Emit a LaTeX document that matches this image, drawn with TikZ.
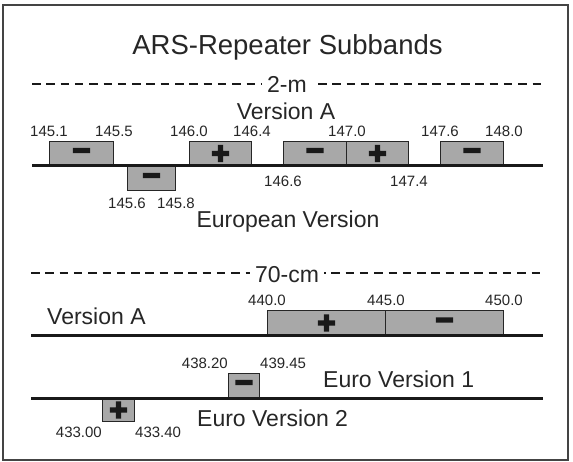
\documentclass[tikz,border=0pt]{standalone}
\usepackage{fontspec}
\setmainfont{Liberation Sans}
\newfontfamily\signfont{DejaVu Sans Bold}[FakeBold=10]
\usepackage{xcolor}
\definecolor{bandgray}{HTML}{A8A8A8}
\definecolor{ink}{HTML}{262626}
\definecolor{framegray}{HTML}{444444}
\usepackage{tikz}
\usetikzlibrary{positioning}

\newcommand{\plussign}{{\signfont +}}
\newcommand{\minussign}{{\signfont −}}

\begin{document}
\begin{tikzpicture}[x=1pt, y=-1pt,
  band/.style={draw=ink, line width=1pt, fill=bandgray, minimum height=24pt, inner sep=0pt,
    anchor=south west, text=black!90, font=\fontsize{24}{24}\selectfont},
  freq/.style={inner sep=0pt, text=ink, font=\fontsize{15}{15}\selectfont},
  lbl/.style={inner sep=0pt, text=ink, font=\fontsize{23}{23}\selectfont},
  axis/.style={line width=3pt, black!90},
  sep/.style={line width=2pt, black!90, dash pattern=on 8.5pt off 5.8pt}]
  \useasboundingbox (0,0) rectangle (573,462);
  \draw[framegray, line width=2pt] (3,5) rectangle (568,460);

  % Title
  \node[inner sep=0pt, text=ink, font=\fontsize{27.5}{27.5}\selectfont, anchor=base] (title) at (287.5,55) {ARS-Repeater Subbands};

  % 2-m
  \coordinate (d1w) at (32,84);
  \coordinate (d1e) at (543,84);
  \draw[sep] (d1w) -- (d1e);
  \node[lbl, anchor=base, fill=white, inner xsep=5pt] (twom) at (287,92.5) {2-m};
  \node[lbl, anchor=base] (verA) at (286,120) {Version A};

  \node[band, minimum width=64pt] (b1) at (49,166) {\minussign};
  \node[band, minimum width=48pt, anchor=north west] (b2) at (127,166) {\minussign};
  \node[band, minimum width=62pt] (b3) at (189,166) {\plussign};
  \node[band, minimum width=63pt] (b4) at (283,166) {\minussign};
  \node[band, minimum width=62pt] (b5) at (346,166) {\plussign};
  \node[band, minimum width=63pt] (b6) at (440,166) {\minussign};

  \node[freq, above=4pt of b1.north west] (f1451) {145.1};
  \node[freq, above=4pt of b1.north east] (f1455) {145.5};
  \node[freq, above=4pt of b3.north west] (f1460) {146.0};
  \node[freq, above=4pt of b3.north east] (f1464) {146.4};
  \node[freq, above=4pt of b4.north east] (f1470) {147.0};
  \node[freq, above=4pt of b6.north west] (f1476) {147.6};
  \node[freq, above=4pt of b6.north east] (f1480) {148.0};
  \node[freq, below=6.5pt of b2.south west] (f1456) {145.6};
  \node[freq, below=6.5pt of b2.south east] (f1458) {145.8};
  \node[freq, below=9.5pt of b4.south west] (f1466) {146.6};
  \node[freq, below=9.5pt of b5.south east] (f1474) {147.4};

  \coordinate (l1w) at (32,166);
  \coordinate (l1e) at (543,166);
  \draw[axis] (l1w) -- (l1e);
  \node[lbl, anchor=base] (euro) at (288,228) {European Version};

  % 70-cm
  \coordinate (d2w) at (31,273);
  \coordinate (d2e) at (543,273);
  \draw[sep] (d2w) -- (d2e);
  \node[lbl, anchor=base, fill=white, inner xsep=5pt] (seventy) at (287,283) {70-cm};
  \node[lbl, anchor=base west] (verA70) at (47,324) {Version A};

  \node[band, minimum width=118pt, minimum height=25pt] (c1) at (267,336) {\plussign};
  \node[band, minimum width=118pt, minimum height=25pt] (c2) at (385,336) {\minussign};
  \node[freq, above=4.5pt of c1.north west] (f4400) {440.0};
  \node[freq, above=4.5pt of c1.north east] (f4450) {445.0};
  \node[freq, above=4.5pt of c2.north east] (f4500) {450.0};

  \coordinate (l2w) at (31,336);
  \coordinate (l2e) at (543,336);
  \draw[axis] (l2w) -- (l2e);

  % Euro versions
  \node[band, minimum width=31pt] (e1) at (228,398) {\minussign};
  \node[band, minimum width=32pt, minimum height=23pt, anchor=north west] (e2) at (102,398) {\plussign};
  \node[freq, above left=4pt and 0pt of e1.north west] (f43820) {438.20};
  \node[freq, above right=4pt and 0pt of e1.north east] (f43945) {439.45};
  \node[freq, below left=5pt and 0pt of e2.south west] (f43300) {433.00};
  \node[freq, below right=5pt and 0pt of e2.south east] (f43340) {433.40};
  \node[lbl, anchor=base west] (euro1) at (323,387) {Euro Version 1};
  \node[lbl, anchor=base west] (euro2) at (197,426) {Euro Version 2};

  \coordinate (l3w) at (31,398);
  \coordinate (l3e) at (543,398);
  \draw[axis] (l3w) -- (l3e);
\end{tikzpicture}
\end{document}
